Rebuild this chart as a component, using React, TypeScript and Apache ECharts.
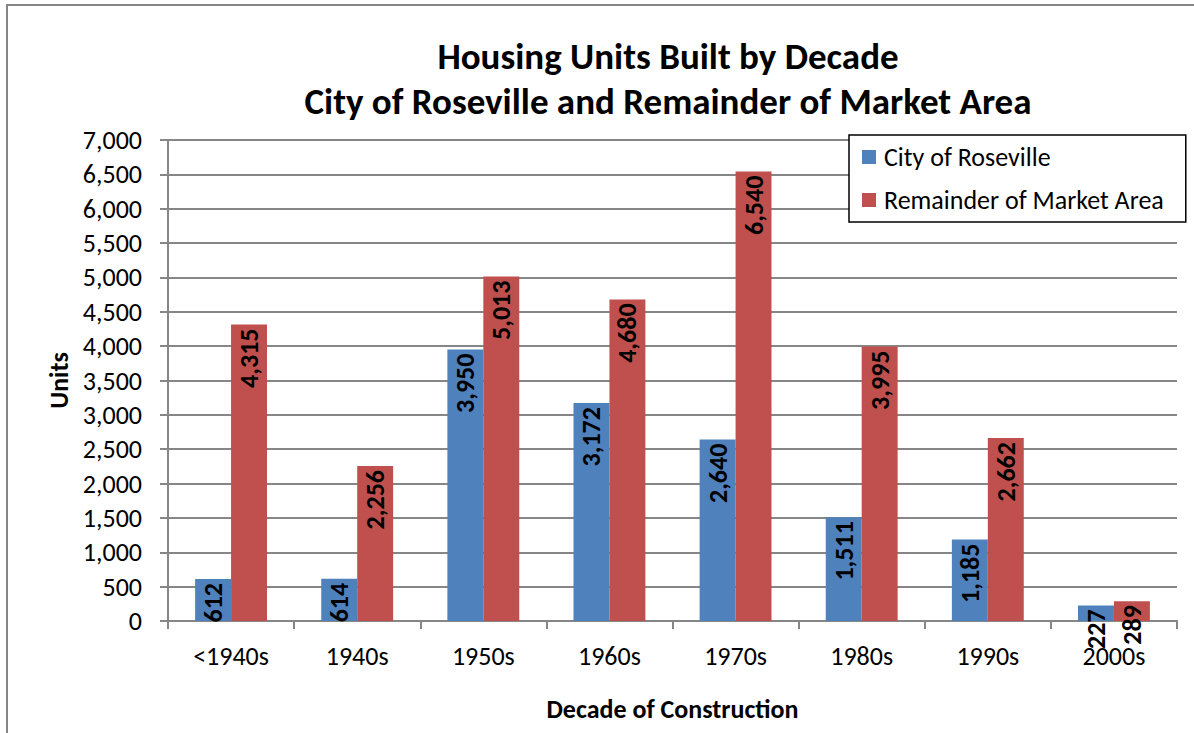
import React, { useEffect, useRef } from "react";
import * as echarts from "echarts";

const categories = ["<1940s", "1940s", "1950s", "1960s", "1970s", "1980s", "1990s", "2000s"];
const roseville = [612, 614, 3950, 3172, 2640, 1511, 1185, 227];
const remainder = [4315, 2256, 5013, 4680, 6540, 3995, 2662, 289];
const seriesNames = ["City of Roseville", "Remainder of Market Area"];
const titleLines = ["Housing Units Built by Decade", "City of Roseville and Remainder of Market Area"];

const FONT = "Carlito, Lato, 'Open Sans', sans-serif";
const fmt = (v: number) => v.toLocaleString("en-US");

export default function App() {
  const ref = useRef<HTMLDivElement>(null);
  useEffect(() => {
    if (!ref.current) return;
    const chart = echarts.init(ref.current, undefined, { renderer: "svg" });
    const label = {
      show: true,
      position: "insideTop",
      rotate: 90,
      align: "right",
      verticalAlign: "middle",
      distance: 4,
      color: "#000",
      fontSize: 26,
      fontWeight: "bold",
      fontFamily: FONT,
      formatter: (p: any) => fmt(p.value),
    };
    chart.setOption({
      animation: false,
      textStyle: { fontFamily: FONT },
      title: {
        text: titleLines.join("\n"),
        left: 663,
        textAlign: "center",
        top: 29,
        textStyle: { fontSize: 37, fontWeight: "bold", color: "#000", lineHeight: 45, fontFamily: FONT },
      },
      graphic: [
        {
          type: "rect",
          shape: { x: 7, y: 5, width: 1200, height: 800 },
          style: { fill: "none", stroke: "#868686", lineWidth: 2 },
          silent: true,
        },
      ],
      legend: {
        orient: "vertical",
        left: 849,
        top: 135,
        padding: [9, 22, 9, 13],
        itemGap: 17,
        itemWidth: 14,
        itemHeight: 14,
        icon: "rect",
        backgroundColor: "#fff",
        borderColor: "#000",
        borderWidth: 1.5,
        textStyle: { fontSize: 26, color: "#000", fontFamily: FONT, padding: [0, 0, 0, 3] },
        data: seriesNames,
      },
      grid: { left: 168, right: 17, top: 140, bottom: 112 },
      xAxis: {
        type: "category",
        data: categories,
        name: "Decade of Construction",
        nameLocation: "middle",
        nameGap: 75,
        nameTextStyle: { fontSize: 26, fontWeight: "bold", color: "#000", fontFamily: FONT },
        axisLine: { lineStyle: { color: "#868686", width: 2 } },
        axisTick: { show: true, length: 8, lineStyle: { color: "#868686", width: 2 } },
        axisLabel: { fontSize: 26, color: "#000", margin: 22, fontFamily: FONT },
      },
      yAxis: {
        type: "value",
        min: 0,
        max: 7000,
        interval: 500,
        name: "Units",
        nameLocation: "middle",
        nameRotate: 90,
        nameGap: 95,
        nameTextStyle: { fontSize: 26, fontWeight: "bold", color: "#000", fontFamily: FONT },
        axisLine: { show: true, lineStyle: { color: "#868686", width: 2 } },
        axisTick: { show: true, length: 8, lineStyle: { color: "#868686", width: 2 } },
        axisLabel: { fontSize: 26, color: "#000", margin: 26, fontFamily: FONT, formatter: (v: number) => fmt(v) },
        splitLine: { lineStyle: { color: "#868686", width: 2 } },
      },
      series: [
        {
          name: seriesNames[0],
          type: "bar",
          data: roseville,
          barGap: "0%",
          barCategoryGap: "43%",
          itemStyle: { color: "#4F81BD" },
          label,
        },
        {
          name: seriesNames[1],
          type: "bar",
          data: remainder,
          barGap: "0%",
          barCategoryGap: "43%",
          itemStyle: { color: "#C0504D" },
          label,
        },
      ],
    });
    return () => chart.dispose();
  }, []);
  return <div ref={ref} style={{ position: "absolute", left: 0, top: 0, width: 1194, height: 733 }} />;
}
